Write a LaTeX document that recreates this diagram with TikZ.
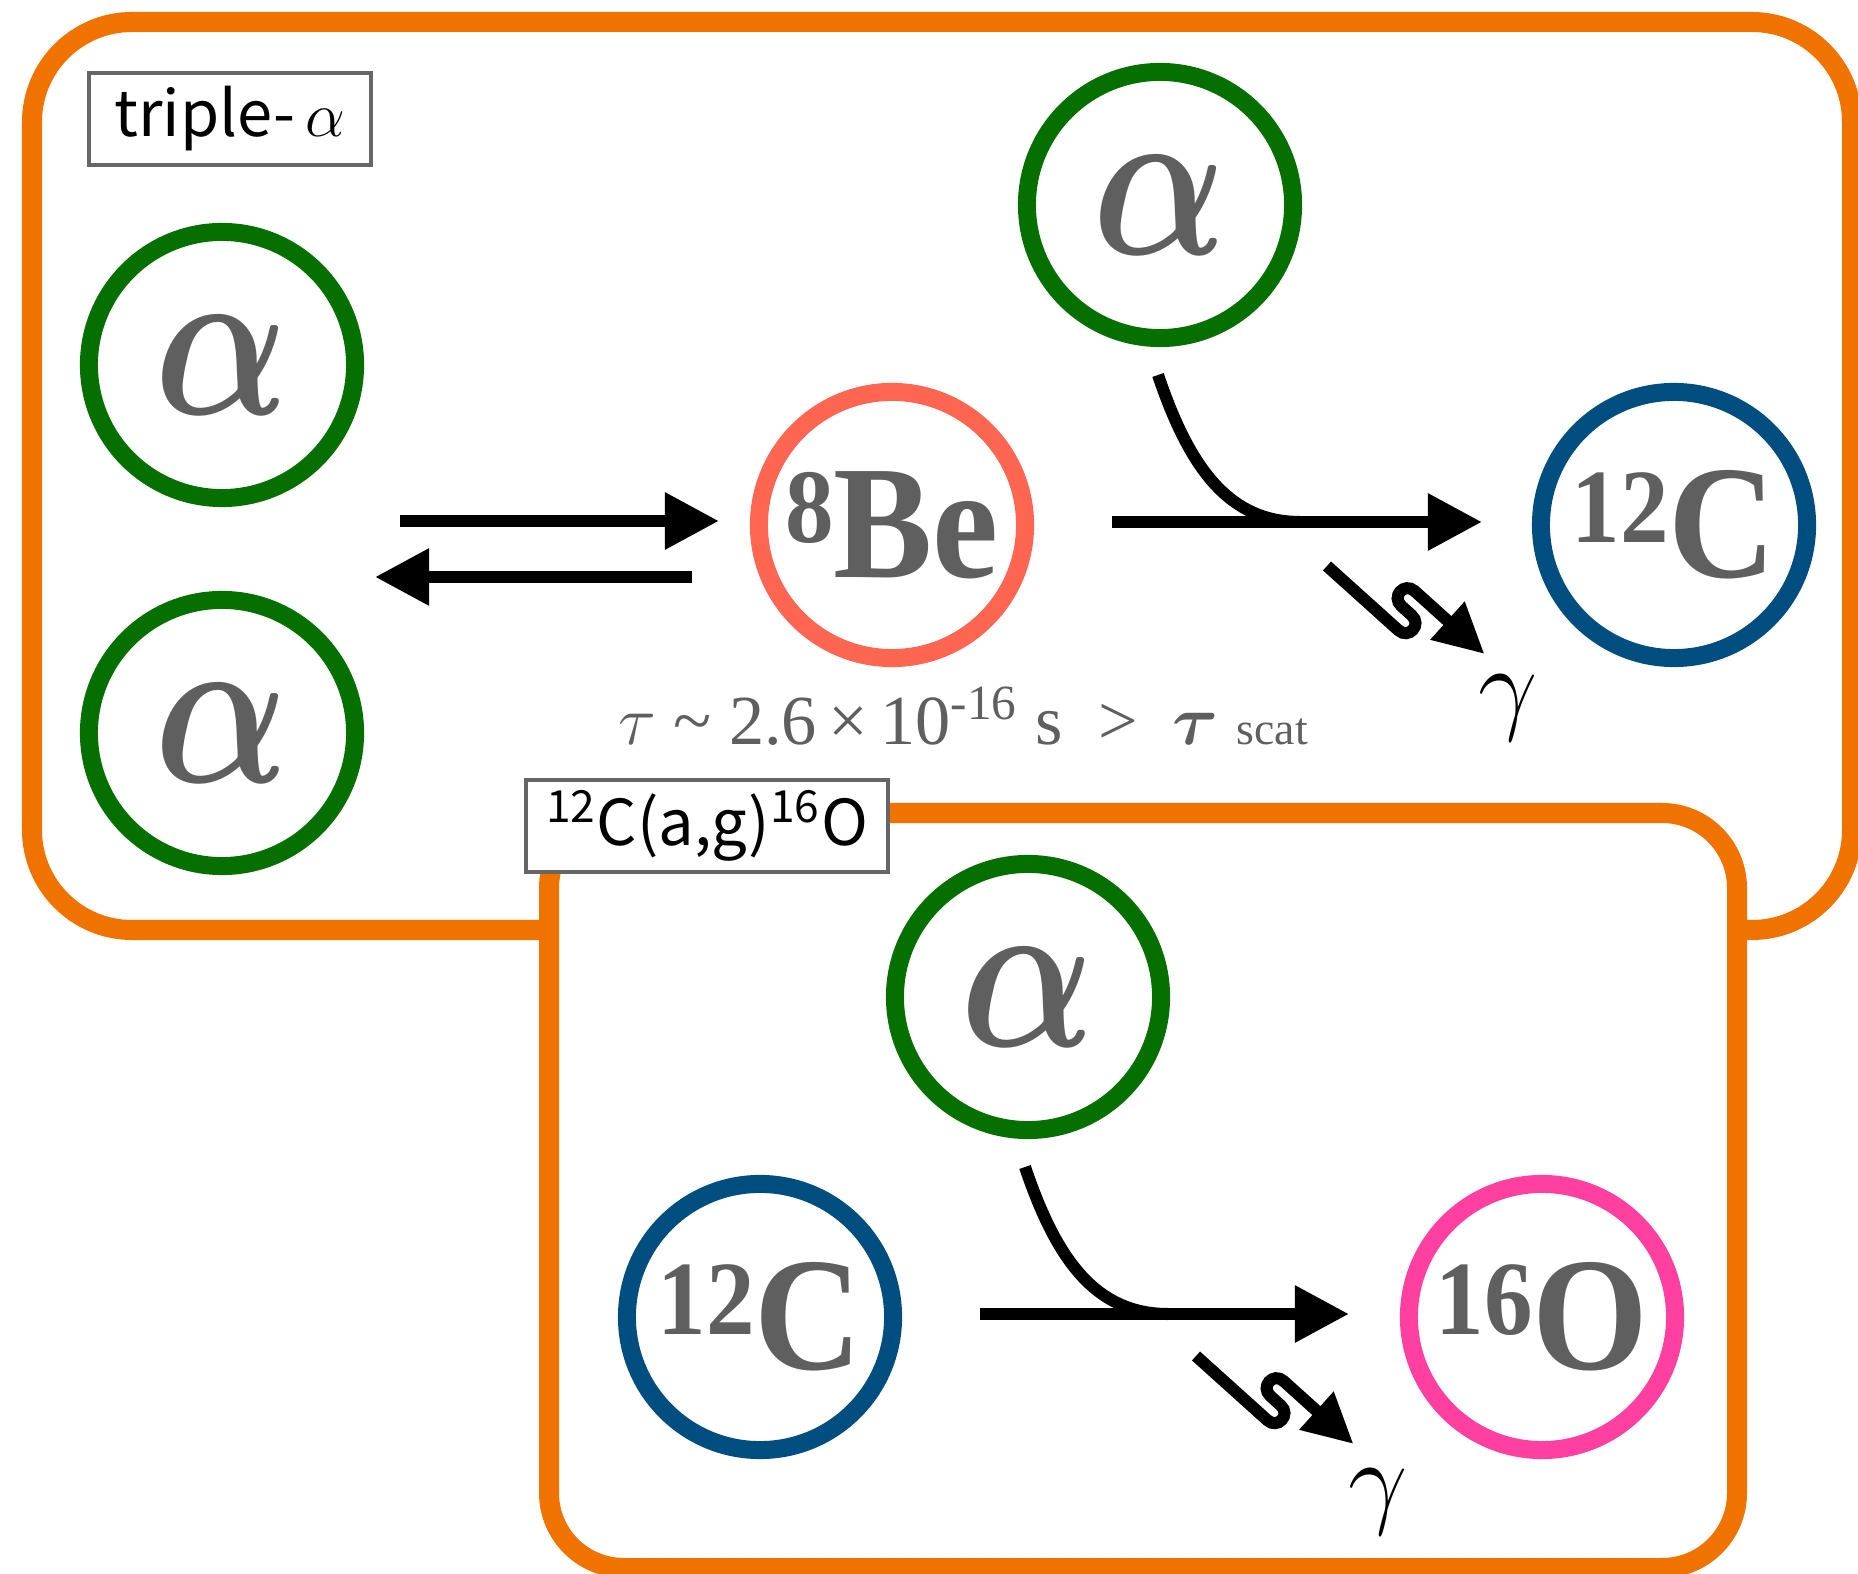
\RequirePackage{fix-cm}
\documentclass[tikz,border=0pt]{standalone}
\usepackage{amsmath}
\usepackage{graphicx}
\usepackage{fontspec}
\setmainfont{Liberation Serif}
\newfontfamily\nucfont[FakeStretch=0.92]{Liberation Serif}
\newfontfamily\tagfont{Noto Sans CJK JP}
\usetikzlibrary{arrows.meta}

\definecolor{alphagreen}{RGB}{5,112,0}
\definecolor{frameorange}{RGB}{240,115,0}
\definecolor{besalmon}{RGB}{255,102,82}
\definecolor{carbonblue}{RGB}{0,78,128}
\definecolor{oxypink}{RGB}{255,64,160}
\definecolor{nucgray}{RGB}{95,95,95}

% mass number set small and raised to the cap height
\newcommand{\nuc}[2]{{\fontsize{30}{30}\selectfont\raisebox{10pt}{#1}}#2}
% narrowed bold alpha
\newcommand{\alphanum}{\scalebox{0.8}[1]{$\boldsymbol{\alpha}$}}

\tikzset{
  nucleus/.style={circle, draw=#1, line width=0.18cm, minimum size=2.66cm,
    inner sep=0pt, text=nucgray, font=\nucfont\fontsize{46}{46}\selectfont\bfseries},
  alphanuc/.style={nucleus=alphagreen, font=\fontsize{63}{63}\selectfont},
  react/.style={line width=0.12cm, -{Triangle[length=0.54cm,width=0.54cm]}},
  photon/.style={line width=0.12cm, -{Triangle[length=0.5cm,width=0.48cm]}},
  frame/.style={draw=frameorange, line width=0.2cm, rounded corners=1cm},
  tag/.style={draw=black!60, line width=1pt, fill=white, inner sep=0pt,
    minimum height=0.92cm, font=\tagfont\fontsize{18}{18}\selectfont},
}

\begin{document}
\begin{tikzpicture}[x=0.01cm, y=-0.01cm]
\useasboundingbox (0,0) rectangle (1858,1574);

% triple-alpha
\draw[frame] (32,22) rectangle (1852,930);

\node[alphanuc] (a1) at (222,365) {\alphanum};
\node[alphanuc] (a2) at (222,733) {\alphanum};
\node[nucleus=besalmon] (be8) at (892,525) {\nuc{8}{Be}};
\node[alphanuc] (a3) at (1160,205) {\alphanum};
\node[nucleus=carbonblue] (c12) at (1674,525) {\nuc{12}{C}};

\coordinate (fwd0) at (400,521);
\coordinate (fwd1) at (719,521);
\coordinate (bwd0) at (692,577);
\coordinate (bwd1) at (375,577);
\draw[react] (fwd0) -- (fwd1);
\draw[react] (bwd0) -- (bwd1);

\coordinate (in3) at (1112,522);
\coordinate (out3) at (1482,522);
\coordinate (join3) at (1158,375);
\coordinate (merge3) at (1300,522);
\draw[line width=0.12cm] (join3) .. controls (1190,470) and (1230,522) .. (merge3);
\draw[react] (in3) -- (out3);

\coordinate (gam3) at (1327,566);
\begin{scope}[shift={(gam3)}, rotate=-42]
\draw[photon] (0,0) -- (96,0) .. controls (110,0) and (110,-20) .. (96,-20)
  -- (82,-20) .. controls (68,-20) and (68,-40) .. (82,-40) -- (176,-40);
\end{scope}
\node[font=\fontsize{30}{30}\selectfont] (g3) at (1508,708) {$\gamma$};

\node[text=nucgray, font=\fontsize{20}{20}\selectfont] (life) at (963,716)
  {$\tau$ \textasciitilde\ 2.6\,×\,10\textsuperscript{-16} s \ >\ \ $\boldsymbol{\tau}$
   {\fontsize{13}{13}\selectfont scat}};

% 12C(a,g)16O
\draw[frame, rounded corners=0.75cm, fill=white] (549,813) rectangle (1737,1568);

\node[alphanuc] (a4) at (1028,997) {\alphanum};
\node[nucleus=carbonblue] (c12b) at (760,1317) {\nuc{12}{C}};
\node[nucleus=oxypink] (o16) at (1542,1317) {\nuc{16}{O}};

\coordinate (in4) at (980,1314);
\coordinate (out4) at (1349,1314);
\coordinate (join4) at (1025,1167);
\coordinate (merge4) at (1168,1314);
\draw[line width=0.12cm] (join4) .. controls (1057,1262) and (1097,1314) .. (merge4);
\draw[react] (in4) -- (out4);

\coordinate (gam4) at (1196,1356);
\begin{scope}[shift={(gam4)}, rotate=-42]
\draw[photon] (0,0) -- (96,0) .. controls (110,0) and (110,-20) .. (96,-20)
  -- (82,-20) .. controls (68,-20) and (68,-40) .. (82,-40) -- (176,-40);
\end{scope}
\node[font=\fontsize{30}{30}\selectfont] (g4) at (1378,1502) {$\gamma$};

% labels
\node[tag, minimum width=2.82cm] (tagtriple) at (230,119) {triple-\,$\alpha$};
\node[tag, minimum width=3.62cm] (tagcag) at (707,826)
  {\textsuperscript{12}C(a,g)\textsuperscript{16}O};
\end{tikzpicture}
\end{document}
